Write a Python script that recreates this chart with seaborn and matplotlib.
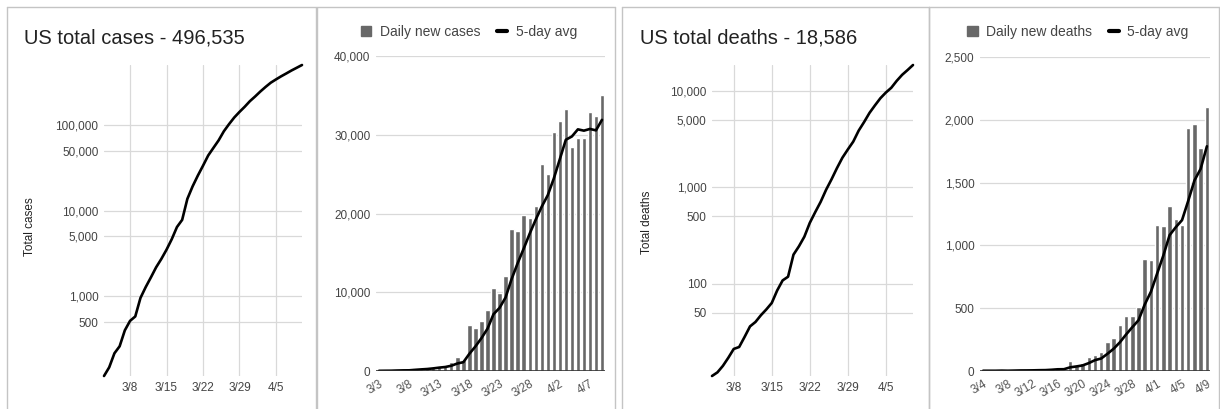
import numpy as np
import pandas as pd
import seaborn as sns
import matplotlib.pyplot as plt
from matplotlib.lines import Line2D
from matplotlib.patches import Patch

# ---------------------------------------
# Data (US)
total_cases = [118, 149, 217, 262, 402, 518, 583, 959, 1281, 1663, 2179, 2727, 3499,
               4632, 6421, 7786, 13680, 19101, 25493, 33276, 43847, 53740, 65778,
               83836, 101657, 121465, 140909, 161831, 188172, 213242, 243622, 275367,
               308650, 337072, 366667, 396223, 429052, 461437, 496535]
total_deaths = [11, 12, 14, 17, 21, 22, 28, 36, 40, 47, 54, 63, 85, 108, 118, 200, 244,
                307, 427, 552, 706, 942, 1209, 1581, 2026, 2467, 2978, 3873, 4757, 5926,
                7087, 8407, 9619, 10783, 12722, 14695, 16478, 18586]

daily_cases = [31, 68, 45, 140, 116, 65, 376, 322, 382, 516, 548, 772, 1133, 1789, 1365,
               5894, 5421, 6392, 7783, 10571, 9893, 12038, 18058, 17821, 19808, 19444,
               20922, 26341, 25070, 30380, 31745, 33283, 28422, 29595, 29556, 32829,
               32385, 35098]
cases_avg = [24, 33, 38, 62, 80, 87, 148, 204, 252, 332, 429, 508, 670, 952, 1121, 2191,
             3120, 4172, 5371, 7212, 8012, 9335, 11669, 13676, 15524, 17434, 19211,
             20867, 22317, 24431, 26892, 29364, 29780, 30685, 30520, 30737, 30557, 31893]

daily_deaths = [1, 2, 3, 4, 1, 6, 8, 4, 7, 7, 9, 22, 23, 10, 82, 44, 63, 115, 128, 148,
                230, 265, 370, 440, 438, 508, 890, 880, 1165, 1158, 1315, 1208, 1160,
                1935, 1968, 1778, 2105]
deaths_avg = [2, 2, 2, 3, 2.2, 3.2, 4.4, 4.6, 5.2, 6.4, 7, 9.8, 13.6, 14.2, 29.2, 36.2,
              44.4, 62.8, 86.4, 99.6, 136.8, 177.2, 228.2, 290.6, 348.6, 404.2, 529.2,
              631.2, 776.2, 920.2, 1081.6, 1145.2, 1201.2, 1355.2, 1517.2, 1609.8, 1789.2]

total_cases_start = '2020-03-03'
total_deaths_start = '2020-03-04'
daily_cases_start = '2020-03-03'
daily_deaths_start = '2020-03-04'

line_ticks = ['3/8', '3/15', '3/22', '3/29', '4/5']
cases_yticks = [500, 1000, 5000, 10000, 50000, 100000]
deaths_yticks = [50, 100, 500, 1000, 5000, 10000]


def day_labels(start, n):
    return [f'{d.month}/{d.day}' for d in pd.date_range(start, periods=n)]


# ---------------------------------------
sns.set_theme(style='white')
plt.rcParams['font.family'] = ['Liberation Sans', 'DejaVu Sans']

W, H = 1220, 409
fig = plt.figure(figsize=(W / 100, H / 100), dpi=100)
fig.patch.set_facecolor('white')

GRID = '#d9d9d9'
TICK = '#444444'
BAR = '#686868'
FRAME = '#c4c4c4'


def axes_px(left, top, right, bottom):
    return fig.add_axes([left / W, 1 - bottom / H, (right - left) / W, (bottom - top) / H])


def fig_line(x0, y0, x1, y1):
    fig.add_artist(Line2D([x0 / W, x1 / W], [1 - y0 / H, 1 - y1 / H],
                          transform=fig.transFigure, color=FRAME, lw=1))


def comma(v):
    return f'{int(v):,}'


# panel frames
for left, right in [(7, 316), (317, 615), (622, 929), (929, 1219)]:
    fig_line(left, 7, right, 7)
    fig_line(left, 7, left, 409)
    fig_line(right, 7, right, 409)


def line_panel(ax, values, start, yticks, title, title_x, ylabel, ylabel_x, ylabel_y):
    labels = day_labels(start, len(values))
    xs = np.arange(len(values))
    sns.lineplot(x=xs, y=values, ax=ax, color='black', lw=1.9)
    ax.lines[0].set_clip_on(False)
    ax.set_yscale('log')
    ax.set_ylim(min(values), max(values))
    ax.set_xlim(0, len(values) - 1)
    ax.set_yticks(yticks)
    ax.set_yticklabels([comma(v) for v in yticks])
    ax.minorticks_off()
    ax.set_xticks([labels.index(t) for t in line_ticks])
    ax.set_xticklabels(line_ticks)
    ax.grid(True, color=GRID, lw=0.9)
    ax.set_axisbelow(True)
    for s in ax.spines.values():
        s.set_visible(False)
    ax.tick_params(length=0, labelsize=8.5, colors=TICK, pad=4)
    ax.set_xlabel('')
    ax.set_ylabel('')
    fig.text(title_x / W, 1 - 43 / H, title, fontsize=14.5, color='#222222', va='baseline')
    fig.text(ylabel_x / W, 1 - ylabel_y / H, ylabel, rotation=90,
             fontsize=8.5, color='#222222', va='center', ha='center')


def bar_panel(ax, values, avg, start, step, ymax, ystep, label, legend_x):
    labels = day_labels(start, len(values))
    sns.barplot(x=labels, y=values, ax=ax, color=BAR, saturation=1, width=0.72)
    sns.lineplot(x=np.arange(len(avg)), y=avg, ax=ax, color='black', lw=1.9)
    ax.set_xlim(-0.5, len(values) - 0.5)
    ax.set_ylim(0, ymax)
    yt = np.arange(0, ymax + 1, ystep)
    ax.set_yticks(yt)
    ax.set_yticklabels([comma(v) for v in yt])
    pos = np.arange(0, len(values), step)
    ax.set_xticks(pos)
    ax.set_xticklabels([labels[i] for i in pos], rotation=30, ha='right',
                       rotation_mode='anchor')
    ax.grid(True, axis='y', color=GRID, lw=0.9)
    ax.grid(False, axis='x')
    ax.set_axisbelow(True)
    for s in ax.spines.values():
        s.set_visible(False)
    ax.axhline(0, color='#333333', lw=1.2)
    ax.tick_params(axis='y', length=0, labelsize=8.5, colors=TICK, pad=4)
    ax.tick_params(axis='x', length=0, labelsize=8.5, colors='#555555', pad=5)
    ax.set_xlabel('')
    ax.set_ylabel('')
    handles = [Patch(color=BAR, label=label),
               Line2D([], [], color='black', lw=3, label='5-day avg')]
    fig.legend(handles=handles, loc='center', bbox_to_anchor=(legend_x / W, 1 - 32 / H),
               ncol=2, frameon=False, fontsize=10, labelcolor=TICK,
               handlelength=0.75, handleheight=0.75, handletextpad=0.6, columnspacing=1.2)


ax1 = axes_px(104, 65, 302, 376)
line_panel(ax1, total_cases, total_cases_start, cases_yticks,
           f'US total cases - {total_cases[-1]:,}', 24, 'Total cases', 30, 227)

ax2 = axes_px(376, 56, 605, 371)
bar_panel(ax2, daily_cases, cases_avg, daily_cases_start, 5, 40000, 10000,
          'Daily new cases', 469)

ax3 = axes_px(712, 65, 913, 376)
line_panel(ax3, total_deaths, total_deaths_start, deaths_yticks,
           f'US total deaths - {total_deaths[-1]:,}', 640, 'Total deaths', 647, 222)

ax4 = axes_px(980, 57, 1210, 371)
bar_panel(ax4, daily_deaths, deaths_avg, daily_deaths_start, 4, 2500, 500,
          'Daily new deaths', 1078)

plt.savefig('out.png', dpi=100)
